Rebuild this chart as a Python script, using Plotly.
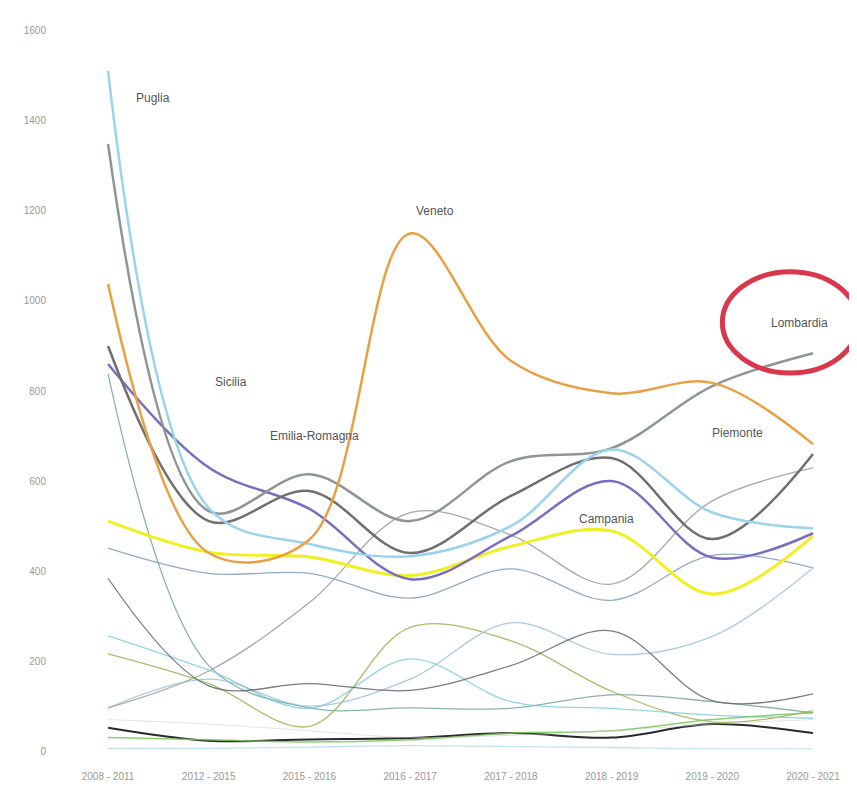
import plotly.graph_objects as go

periods = ["2008 - 2011", "2012 - 2015", "2015 - 2016", "2016 - 2017",
           "2017 - 2018", "2018 - 2019", "2019 - 2020", "2020 - 2021"]
x_idx = list(range(len(periods)))

# main regions (thick lines)
puglia = [1511, 540, 460, 433, 500, 670, 530, 495]
lombardia = [1349, 533, 615, 511, 644, 673, 811, 884]
veneto = [1038, 440, 470, 1150, 867, 795, 818, 682]
piemonte = [900, 511, 578, 440, 567, 651, 471, 660]
emilia_romagna = [860, 630, 538, 382, 478, 600, 430, 484]
campania = [511, 442, 431, 390, 455, 489, 349, 478]

# other regions (thin lines)
sicilia = [451, 395, 395, 340, 405, 335, 435, 407]
lazio = [96, 178, 330, 530, 480, 371, 556, 629]
toscana = [838, 190, 96, 96, 95, 125, 110, 85]
marche = [216, 150, 55, 275, 245, 133, 65, 90]
sardegna = [256, 180, 95, 205, 110, 95, 80, 73]
calabria = [96, 160, 100, 160, 285, 215, 255, 407]
abruzzo = [384, 145, 150, 135, 190, 267, 112, 127]
liguria = [52, 23, 26, 29, 40, 30, 60, 40]
friuli = [30, 25, 20, 25, 40, 45, 70, 85]
umbria = [6, 6, 9, 12, 10, 8, 5, 5]
trentino = [70, 60, 45, 30, 35, 45, 60, 70]

series = [
    ("Sicilia", sicilia, "rgba(120,150,180,0.8)", 1.3),
    ("Lazio", lazio, "rgba(140,150,140,0.8)", 1.3),
    ("Toscana", toscana, "rgba(110,160,150,0.8)", 1.3),
    ("Marche", marche, "rgba(150,180,80,0.85)", 1.3),
    ("Sardegna", sardegna, "rgba(120,200,220,0.8)", 1.3),
    ("Calabria", calabria, "rgba(150,190,215,0.8)", 1.3),
    ("Abruzzo", abruzzo, "rgba(100,100,110,0.85)", 1.3),
    ("Liguria", liguria, "rgba(30,30,30,0.95)", 2),
    ("Friuli-Venezia Giulia", friuli, "rgba(120,200,90,0.85)", 1.5),
    ("Umbria", umbria, "rgba(170,215,235,0.7)", 1.3),
    ("Trentino-Alto Adige", trentino, "rgba(200,200,200,0.5)", 1.0),
    ("Campania", campania, "#f0f020", 3),
    ("Emilia-Romagna", emilia_romagna, "#7a6cc0", 2.5),
    ("Piemonte", piemonte, "#6f6f6f", 2.5),
    ("Lombardia", lombardia, "#8e9594", 2.5),
    ("Puglia", puglia, "#9ad3ec", 2.5),
    ("Veneto", veneto, "#e8a045", 2.5),
]

fig = go.Figure()
for name, vals, color, w in series:
    fig.add_trace(go.Scatter(
        x=x_idx, y=vals, name=name, mode="lines",
        line=dict(color=color, width=w, shape="spline", smoothing=1.0),
        hoverinfo="name+y",
    ))

labels = [
    ("Puglia", 0.45, 1451),
    ("Sicilia", 1.22, 820),
    ("Emilia-Romagna", 2.05, 700),
    ("Veneto", 3.25, 1200),
    ("Campania", 4.95, 516),
    ("Piemonte", 6.25, 707),
    ("Lombardia", 6.87, 951),
]
for text, lx, ly in labels:
    fig.add_annotation(x=lx, y=ly, text=text, showarrow=False,
                       font=dict(family="Liberation Sans, Arial", size=12, color="#555"))

# red highlight ellipse around Lombardia
fig.add_shape(type="circle", xref="x", yref="y",
              x0=6.1, x1=7.45, y0=840, y1=1065,
              line=dict(color="#d9384c", width=5))

fig.update_layout(
    width=857, height=787,
    margin=dict(l=65, r=10, t=13, b=34),
    paper_bgcolor="white", plot_bgcolor="white",
    showlegend=False,
    xaxis=dict(range=[-0.348, 7.417], tickvals=x_idx, ticktext=periods,
               showgrid=False, zeroline=False, showline=False,
               ticks="outside", ticklen=6, tickcolor="rgba(0,0,0,0)",
               tickfont=dict(family="Liberation Sans, Arial", size=10, color="#999")),
    yaxis=dict(range=[-22, 1622], tickvals=[0, 200, 400, 600, 800, 1000, 1200, 1400, 1600],
               showgrid=False, zeroline=False, showline=False,
               ticks="outside", ticklen=24, tickcolor="rgba(0,0,0,0)",
               tickfont=dict(family="Liberation Sans, Arial", size=10, color="#999")),
)

fig.write_html("out.html")
